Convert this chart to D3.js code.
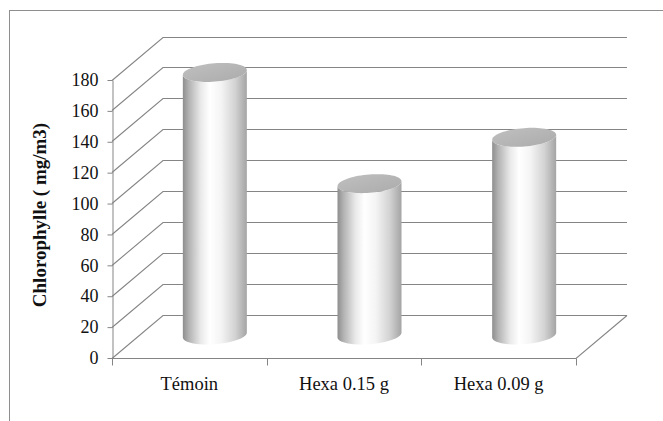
<!DOCTYPE html>
<html>
<head>
<meta charset="utf-8">
<script src="https://cdn.jsdelivr.net/npm/d3@7/dist/d3.min.js"></script>
<style>
  html, body { margin: 0; padding: 0; background: #fff; }
  svg { display: block; }
  text { font-family: "Liberation Serif", "Times New Roman", serif; fill: #111; }
</style>
</head>
<body>
<svg id="chart" width="663" height="421"></svg>
<script>
// Chlorophyll concentration per treatment
const categories = ["Témoin", "Hexa 0.15 g", "Hexa 0.09 g"];
const chlorophylle = [170, 98, 128];
const yTicks = [0, 20, 40, 60, 80, 100, 120, 140, 160, 180];
const yLabel = "Chlorophylle ( mg/m3)";

const svg = d3.select("#chart");

// Front plane scales
const x = d3.scaleBand().domain(categories).range([112, 576]).padding(0);
const y = d3.scaleLinear().domain([0, 180]).range([357.5, 79.5]);

// Oblique depth of the 3D box (back wall offset)
const depth = { dx: 51, dy: -43 };
const mid = { dx: depth.dx / 2, dy: -22.5 };

const gridColor = "#858585";

// Outer chart frame
svg.append("rect")
  .attr("x", 9.5).attr("y", 10.5)
  .attr("width", 700).attr("height", 500)
  .attr("fill", "none").attr("stroke", "#8e8e8e").attr("stroke-width", 1);

// Back wall gridlines + side wall diagonals
const grid = svg.append("g").attr("fill", "none").attr("stroke", gridColor).attr("stroke-width", 1.1);
yTicks.forEach(t => {
  const yf = Math.round(y(t)) + 0.5;
  const pts = [
    [x.range()[0], yf],
    [x.range()[0] + depth.dx, yf + depth.dy],
    [x.range()[1] + depth.dx, yf + depth.dy]
  ];
  grid.append("path").attr("d", d3.line()(pts));
});

// Floor outline: front edge and right edge
const yf0 = Math.round(y(0)) + 0.5;
grid.append("path").attr("d", d3.line()([
  [x.range()[0], yf0],
  [x.range()[1], yf0],
  [x.range()[1] + depth.dx, yf0 + depth.dy]
]));

// Vertical value axis on the front plane
const yAxis = d3.axisLeft(y).tickValues(yTicks).tickSize(5).tickSizeOuter(0).tickPadding(9);
const gy = svg.append("g").attr("transform", `translate(${x.range()[0] + 0.5},0.5)`).call(yAxis);
gy.attr("font-family", null);
gy.select(".domain").attr("stroke", gridColor);
gy.selectAll(".tick line").attr("stroke", gridColor);
gy.selectAll(".tick text").attr("font-size", 18).attr("fill", "#111")
  .style("font-family", "'Liberation Serif', serif");

// Category axis: boundary tick marks and centered labels
const bounds = categories.map(c => x(c)).concat([x.range()[1]]);
svg.append("g").selectAll("line").data(bounds).join("line")
  .attr("x1", d => Math.round(d) + 0.5).attr("x2", d => Math.round(d) + 0.5)
  .attr("y1", yf0).attr("y2", yf0 + 7)
  .attr("stroke", gridColor);

const xAxis = d3.axisBottom(x).tickSize(0).tickPadding(0);
const gx = svg.append("g").attr("transform", `translate(0,${yf0})`).call(xAxis);
gx.attr("font-family", null);
gx.select(".domain").remove();
gx.selectAll(".tick text")
  .attr("font-size", 18.5).attr("fill", "#111")
  .attr("dy", null).attr("y", 31)
  .style("font-family", "'Liberation Serif', serif");

// Y axis title
svg.append("text")
  .attr("transform", "translate(46,215) rotate(-90)")
  .attr("text-anchor", "middle")
  .attr("font-size", 19)
  .attr("font-weight", "bold")
  .text(yLabel);

// Cylinder gradients
const defs = svg.append("defs");
const body = defs.append("linearGradient").attr("id", "cylBody")
  .attr("x1", "0%").attr("x2", "100%").attr("y1", "0%").attr("y2", "0%");
[["0%", "#8e8e8e"], ["10%", "#b4b4b4"], ["28%", "#e9e9e9"], ["42%", "#ffffff"],
 ["60%", "#f4f4f4"], ["82%", "#d2d2d2"], ["100%", "#a4a4a4"]]
  .forEach(([o, c]) => body.append("stop").attr("offset", o).attr("stop-color", c));

const cap = defs.append("linearGradient").attr("id", "cylCap")
  .attr("x1", "0%").attr("x2", "100%").attr("y1", "0%").attr("y2", "100%");
[["0%", "#c0c0c0"], ["100%", "#ababab"]]
  .forEach(([o, c]) => cap.append("stop").attr("offset", o).attr("stop-color", c));

// Cylinder geometry: sheared ellipse cross-section
const R = 32;          // half width of the cylinder
const shear = 8;       // depth shift of the ellipse's back point
const a = Math.sqrt(R * R - shear * shear);
const c = 9.5;         // half height of the ellipse
const t0 = Math.atan2(shear, a);

function ellipsePoint(cx, cy, t) {
  return [cx + a * Math.cos(t) + shear * Math.sin(t), cy - c * Math.sin(t)];
}
function arc(cx, cy, from, to, n = 48) {
  return d3.range(n + 1).map(i => ellipsePoint(cx, cy, from + (to - from) * i / n));
}

const line = d3.line();
const bars = svg.append("g");
categories.forEach((cat, i) => {
  const cx = x(cat) + x.bandwidth() / 2 + mid.dx;
  const yBase = y(0) + mid.dy;
  const yTop = y(chlorophylle[i]) + mid.dy;

  const bodyPts = []
    .concat(arc(cx, yBase, t0 + Math.PI, t0 + 2 * Math.PI))
    .concat(arc(cx, yTop, t0, t0 - Math.PI));
  bars.append("path")
    .attr("d", line(bodyPts) + "Z")
    .attr("fill", "url(#cylBody)");

  bars.append("path")
    .attr("d", line(arc(cx, yTop, 0, 2 * Math.PI, 72)) + "Z")
    .attr("fill", "url(#cylCap)");
});
</script>
</body>
</html>
